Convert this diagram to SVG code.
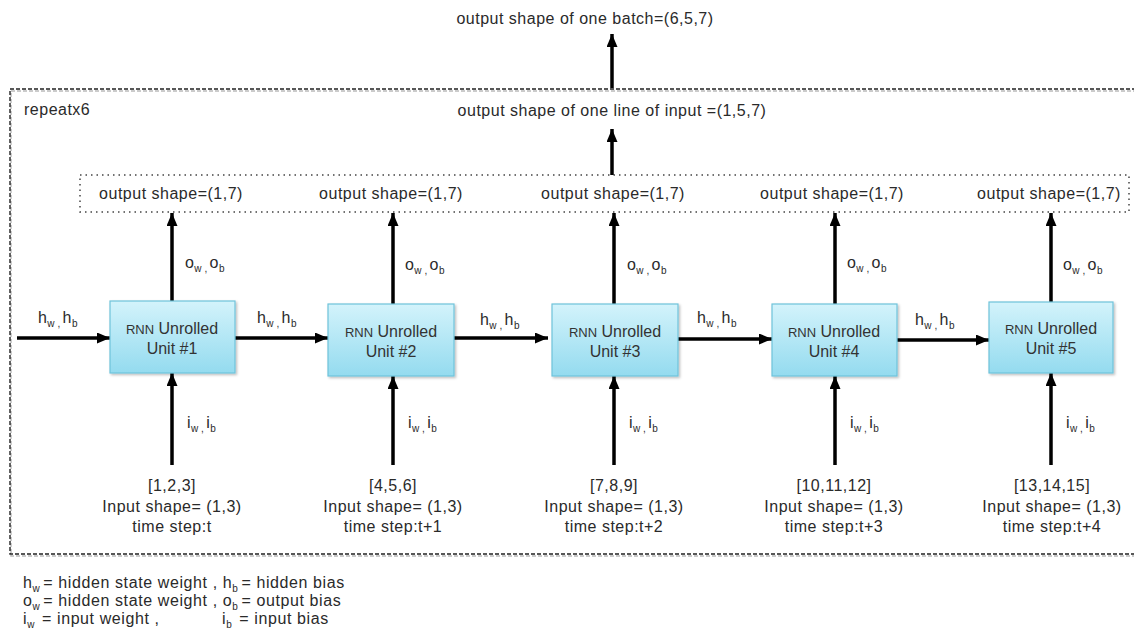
<svg xmlns="http://www.w3.org/2000/svg" width="1134" height="638" viewBox="0 0 1134 638">
<style>
text{font-family:"Liberation Sans",Arial,sans-serif;fill:#2a2a2a}
.t{font-size:16px;letter-spacing:0.5px}
.c{text-anchor:middle}
.lbl{font-size:16px;letter-spacing:0.4px}
.leg{font-size:16px;letter-spacing:0.6px}
.sub{font-size:10px}
.unit{fill:url(#g);stroke:#6fc3da;stroke-width:1.2}
.unitTxt{font-size:16px;text-anchor:middle;fill:#333}
.arr{stroke:#000;stroke-width:3.5;fill:none;marker-end:url(#ah)}
</style>
<defs>
<linearGradient id="g" x1="0" y1="0" x2="0" y2="1">
<stop offset="0" stop-color="#d3f3fb"/>
<stop offset="1" stop-color="#94dbef"/>
</linearGradient>
<marker id="ah" markerUnits="userSpaceOnUse" markerWidth="13" markerHeight="11" refX="13" refY="5.5" orient="auto">
<path d="M0,0 L13,5.5 L0,11 z" fill="#000"/>
</marker>
<filter id="sh" x="-10%" y="-10%" width="130%" height="130%">
<feDropShadow dx="1.5" dy="1.5" stdDeviation="1" flood-color="#000" flood-opacity="0.25"/>
</filter>
</defs>
<rect width="1134" height="638" fill="#fff"/>

<g id="frame">
<rect x="11" y="91" width="1140" height="465" fill="none" stroke="#bbb" stroke-width="1.5" stroke-dasharray="4 2"/>
<rect x="10" y="89" width="1140" height="465" fill="none" stroke="#222" stroke-width="1.4" stroke-dasharray="4 2"/>
<text x="24" y="115" class="t">repeatx6</text>
</g>

<g id="top-output">
<text x="585" y="24" class="t c">output shape of one batch=(6,5,7)</text>
</g>
<g id="line-output">
<text x="612" y="116" class="t c">output shape of one line of input =(1,5,7)</text>
</g>

<g id="outputs">
<rect x="80" y="175" width="1049" height="37" fill="none" stroke="#444" stroke-width="1.5" stroke-dasharray="1.5 4"/>
<text x="171" y="199" class="t c">output shape=(1,7)</text>
<text x="391" y="199" class="t c">output shape=(1,7)</text>
<text x="613" y="199" class="t c">output shape=(1,7)</text>
<text x="832" y="199" class="t c">output shape=(1,7)</text>
<text x="1049" y="199" class="t c">output shape=(1,7)</text>
</g>

<g id="connectors">
<line x1="612" y1="88" x2="612" y2="34" class="arr"/>
<line x1="612" y1="175" x2="612" y2="129" class="arr"/>
<line x1="17" y1="338" x2="110" y2="338" class="arr"/>
<line x1="235" y1="338" x2="328" y2="338" class="arr"/>
<line x1="454" y1="338" x2="548" y2="338" class="arr"/>
<line x1="678" y1="339" x2="772" y2="339" class="arr"/>
<line x1="897" y1="340" x2="989" y2="340" class="arr"/>
<line x1="172" y1="301" x2="172" y2="213" class="arr"/>
<line x1="393" y1="304" x2="393" y2="213" class="arr"/>
<line x1="614" y1="304" x2="614" y2="213" class="arr"/>
<line x1="835" y1="304" x2="835" y2="213" class="arr"/>
<line x1="1051" y1="302" x2="1051" y2="213" class="arr"/>
<line x1="172" y1="465" x2="172" y2="373" class="arr"/>
<line x1="393" y1="465" x2="393" y2="376" class="arr"/>
<line x1="614" y1="465" x2="614" y2="376" class="arr"/>
<line x1="835" y1="465" x2="835" y2="376" class="arr"/>
<line x1="1051" y1="465" x2="1051" y2="373" class="arr"/>

<text x="38" y="323" class="lbl">h<tspan class="sub" dy="4">w</tspan><tspan class="sub" dx="3">,</tspan><tspan dy="-4" dx="2">h</tspan><tspan class="sub" dy="4">b</tspan></text>
<text x="257" y="323" class="lbl">h<tspan class="sub" dy="4">w</tspan><tspan class="sub" dx="3">,</tspan><tspan dy="-4" dx="2">h</tspan><tspan class="sub" dy="4">b</tspan></text>
<text x="480" y="325" class="lbl">h<tspan class="sub" dy="4">w</tspan><tspan class="sub" dx="3">,</tspan><tspan dy="-4" dx="2">h</tspan><tspan class="sub" dy="4">b</tspan></text>
<text x="697" y="323" class="lbl">h<tspan class="sub" dy="4">w</tspan><tspan class="sub" dx="3">,</tspan><tspan dy="-4" dx="2">h</tspan><tspan class="sub" dy="4">b</tspan></text>
<text x="915" y="325" class="lbl">h<tspan class="sub" dy="4">w</tspan><tspan class="sub" dx="3">,</tspan><tspan dy="-4" dx="2">h</tspan><tspan class="sub" dy="4">b</tspan></text>

<text x="185" y="268" class="lbl">o<tspan class="sub" dy="4">w</tspan><tspan class="sub" dx="3">,</tspan><tspan dy="-4" dx="2">o</tspan><tspan class="sub" dy="4">b</tspan></text>
<text x="405" y="270" class="lbl">o<tspan class="sub" dy="4">w</tspan><tspan class="sub" dx="3">,</tspan><tspan dy="-4" dx="2">o</tspan><tspan class="sub" dy="4">b</tspan></text>
<text x="627" y="270" class="lbl">o<tspan class="sub" dy="4">w</tspan><tspan class="sub" dx="3">,</tspan><tspan dy="-4" dx="2">o</tspan><tspan class="sub" dy="4">b</tspan></text>
<text x="847" y="268" class="lbl">o<tspan class="sub" dy="4">w</tspan><tspan class="sub" dx="3">,</tspan><tspan dy="-4" dx="2">o</tspan><tspan class="sub" dy="4">b</tspan></text>
<text x="1063" y="270" class="lbl">o<tspan class="sub" dy="4">w</tspan><tspan class="sub" dx="3">,</tspan><tspan dy="-4" dx="2">o</tspan><tspan class="sub" dy="4">b</tspan></text>

<text x="187" y="428" class="lbl">i<tspan class="sub" dy="4">w</tspan><tspan class="sub" dx="3">,</tspan><tspan dy="-4" dx="2">i</tspan><tspan class="sub" dy="4">b</tspan></text>
<text x="408" y="428" class="lbl">i<tspan class="sub" dy="4">w</tspan><tspan class="sub" dx="3">,</tspan><tspan dy="-4" dx="2">i</tspan><tspan class="sub" dy="4">b</tspan></text>
<text x="629" y="428" class="lbl">i<tspan class="sub" dy="4">w</tspan><tspan class="sub" dx="3">,</tspan><tspan dy="-4" dx="2">i</tspan><tspan class="sub" dy="4">b</tspan></text>
<text x="850" y="428" class="lbl">i<tspan class="sub" dy="4">w</tspan><tspan class="sub" dx="3">,</tspan><tspan dy="-4" dx="2">i</tspan><tspan class="sub" dy="4">b</tspan></text>
<text x="1066" y="428" class="lbl">i<tspan class="sub" dy="4">w</tspan><tspan class="sub" dx="3">,</tspan><tspan dy="-4" dx="2">i</tspan><tspan class="sub" dy="4">b</tspan></text>
</g>

<g id="unit1">
<rect x="110" y="301" width="125" height="72" class="unit" filter="url(#sh)"/>
<text x="172" y="334" class="unitTxt"><tspan font-size="13">RNN</tspan> Unrolled</text>
<text x="172" y="354" class="unitTxt">Unit #1</text>
</g>
<g id="unit2">
<rect x="328" y="304" width="126" height="72" class="unit" filter="url(#sh)"/>
<text x="391" y="337" class="unitTxt"><tspan font-size="13">RNN</tspan> Unrolled</text>
<text x="391" y="357" class="unitTxt">Unit #2</text>
</g>
<g id="unit3">
<rect x="552" y="304" width="126" height="72" class="unit" filter="url(#sh)"/>
<text x="615" y="337" class="unitTxt"><tspan font-size="13">RNN</tspan> Unrolled</text>
<text x="615" y="357" class="unitTxt">Unit #3</text>
</g>
<g id="unit4">
<rect x="772" y="304" width="125" height="72" class="unit" filter="url(#sh)"/>
<text x="834" y="337" class="unitTxt"><tspan font-size="13">RNN</tspan> Unrolled</text>
<text x="834" y="357" class="unitTxt">Unit #4</text>
</g>
<g id="unit5">
<rect x="989" y="302" width="124" height="71" class="unit" filter="url(#sh)"/>
<text x="1051" y="334" class="unitTxt"><tspan font-size="13">RNN</tspan> Unrolled</text>
<text x="1051" y="354" class="unitTxt">Unit #5</text>
</g>

<g id="input1">
<text x="172" y="491" class="t c">[1,2,3]</text>
<text x="172" y="512" class="t c">Input shape= (1,3)</text>
<text x="172" y="532" class="t c">time step:t</text>
</g>
<g id="input2">
<text x="393" y="491" class="t c">[4,5,6]</text>
<text x="393" y="512" class="t c">Input shape= (1,3)</text>
<text x="393" y="532" class="t c">time step:t+1</text>
</g>
<g id="input3">
<text x="614" y="491" class="t c">[7,8,9]</text>
<text x="614" y="512" class="t c">Input shape= (1,3)</text>
<text x="614" y="532" class="t c">time step:t+2</text>
</g>
<g id="input4">
<text x="834" y="491" class="t c">[10,11,12]</text>
<text x="834" y="512" class="t c">Input shape= (1,3)</text>
<text x="834" y="532" class="t c">time step:t+3</text>
</g>
<g id="input5">
<text x="1052" y="491" class="t c">[13,14,15]</text>
<text x="1052" y="512" class="t c">Input shape= (1,3)</text>
<text x="1052" y="532" class="t c">time step:t+4</text>
</g>

<g id="legend">
<text x="23" y="588" class="leg">h<tspan class="sub" dy="4">w</tspan><tspan dy="-4" dx="3">= hidden state weight , h</tspan><tspan class="sub" dy="4">b</tspan><tspan dy="-4" dx="3">= hidden bias</tspan></text>
<text x="23" y="606" class="leg">o<tspan class="sub" dy="4">w</tspan><tspan dy="-4" dx="3">= hidden state weight , o</tspan><tspan class="sub" dy="4">b</tspan><tspan dy="-4" dx="3">= output bias</tspan></text>
<text x="23" y="624" class="leg">i<tspan class="sub" dy="4">w</tspan><tspan dy="-4" dx="7">= input weight ,</tspan></text>
<text x="222" y="624" class="leg">i<tspan class="sub" dy="4">b</tspan><tspan dy="-4" dx="7">= input bias</tspan></text>
</g>
</svg>
